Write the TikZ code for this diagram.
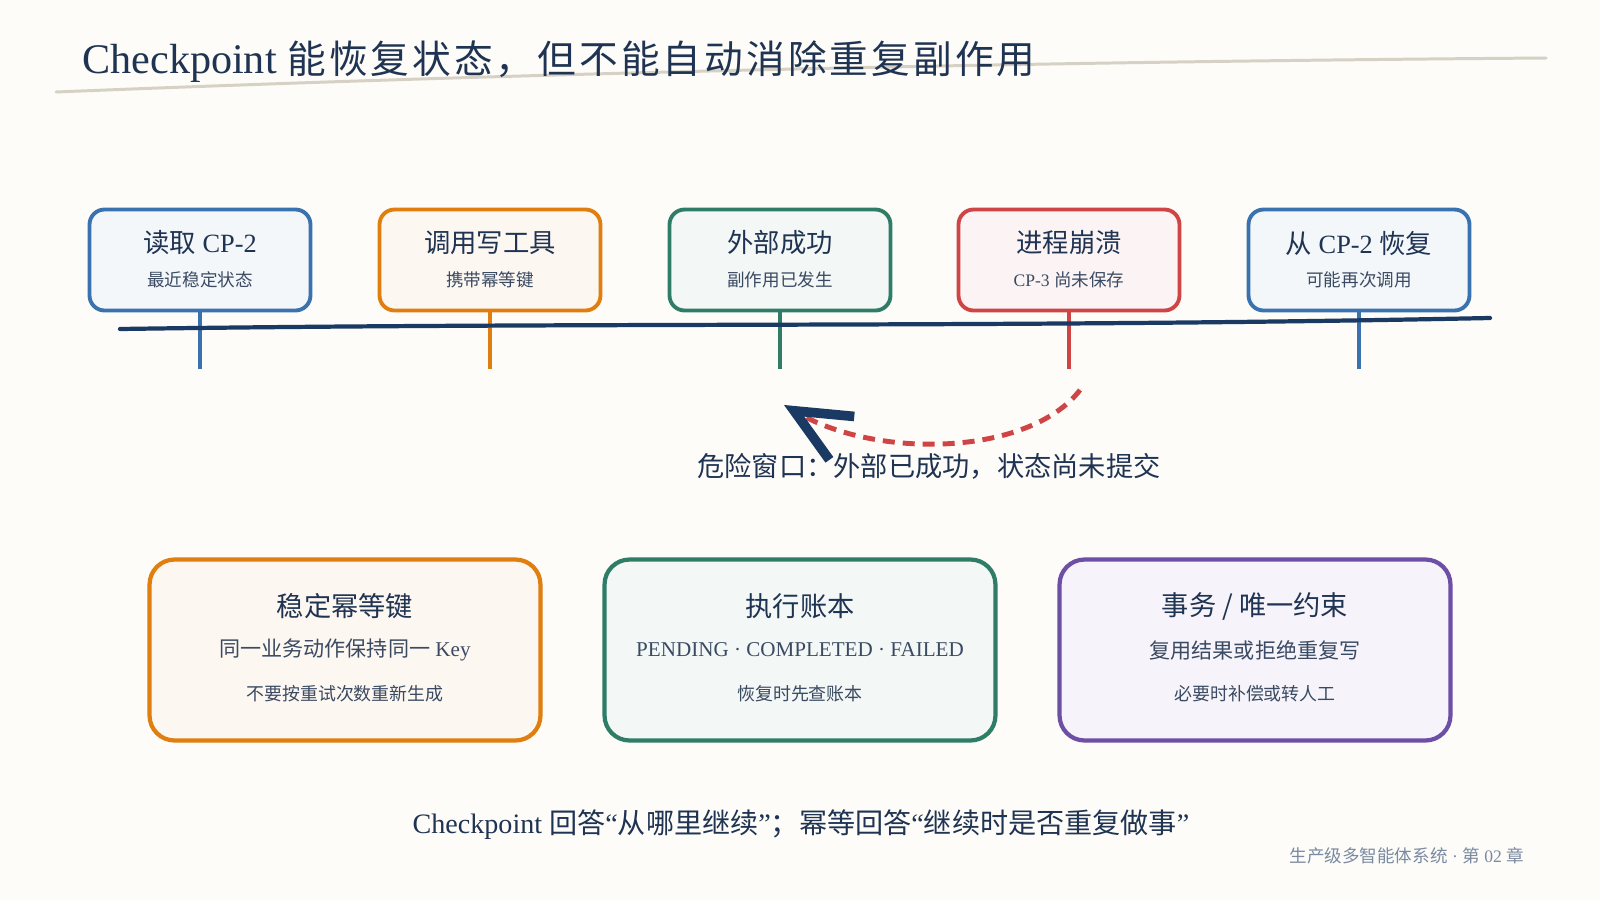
\documentclass[tikz,border=0pt]{standalone}
\usepackage{fontspec}
\setmainfont{Liberation Serif}
\newfontfamily\cjk{Noto Sans CJK SC}
\newfontfamily\cjkwide[LetterSpace=8]{Noto Sans CJK SC}
\usetikzlibrary{arrows.meta}
\definecolor{paperbg}{HTML}{FDFCF8}
\definecolor{inkcolor}{HTML}{1F3352}
\definecolor{softink}{HTML}{3A4A62}
\definecolor{footink}{HTML}{7A8AA2}
\definecolor{rulecolor}{HTML}{D6D1C4}
\definecolor{timecolor}{HTML}{1A3A63}
\definecolor{cpblue}{HTML}{3A72B0}
\definecolor{cporange}{HTML}{E07E10}
\definecolor{cpgreen}{HTML}{2F7D66}
\definecolor{cpred}{HTML}{CF4444}
\definecolor{cppurple}{HTML}{6E4FA6}
\tikzset{
  topcard/.style={draw=#1, fill=#1!6, line width=2.2pt, rounded corners=0.3cm,
    minimum width=4.42cm, minimum height=2.02cm},
  basecard/.style={draw=#1, fill=#1!6, line width=2.4pt, rounded corners=0.5cm,
    minimum width=7.82cm, minimum height=3.62cm},
  stem/.style={draw=#1, line width=2.1pt},
  toptitle/.style={text=inkcolor, inner sep=0pt, font=\fontsize{15}{18}\selectfont},
  topnote/.style={text=softink, inner sep=0pt, font=\fontsize{10}{12}\selectfont},
  basetitle/.style={text=inkcolor, inner sep=0pt, font=\fontsize{15.5}{18}\selectfont},
  basenote/.style={text=softink, inner sep=0pt, font=\fontsize{12}{14}\selectfont},
  basesmall/.style={text=softink, inner sep=0pt, font=\fontsize{10.2}{13}\selectfont}
}

\begin{document}
\begin{tikzpicture}[x=0.02cm, y=-0.02cm]
\useasboundingbox (0,0) rectangle (1600,900);
\fill[paperbg] (0,0) rectangle (1600,900);

% title
\draw[rulecolor, line width=1.7pt, line cap=round] (56,92) .. controls (500,74) and (1000,62) .. (1546,58);
\node[anchor=base west, inner sep=0pt, text=inkcolor] (title) at (82,73)
  {\fontsize{24}{26}\selectfont Checkpoint \cjkwide\fontsize{22}{26}\selectfont 能恢复状态，但不能自动消除重复副作用};

% timeline
\draw[stem=cpblue] (200,310) -- (200,369);
\draw[stem=cporange] (490,310) -- (490,369);
\draw[stem=cpgreen] (780,310) -- (780,369);
\draw[stem=cpred] (1069,310) -- (1069,369);
\draw[stem=cpblue] (1359,310) -- (1359,369);
\draw[timecolor, line width=2.4pt, line cap=round] (120,329) .. controls (600,322) and (1000,328) .. (1490,318);

\node[topcard=cpblue] (read) at (200,260) {};
\node[toptitle] (readT) at (200,243) {{\cjk 读取} CP-2};
\node[topnote] (readS) at (200,280) {\cjk 最近稳定状态};

\node[topcard=cporange] (call) at (490,260) {};
\node[toptitle] (callT) at (490,243) {\cjk 调用写工具};
\node[topnote] (callS) at (490,280) {\cjk 携带幂等键};

\node[topcard=cpgreen] (done) at (780,260) {};
\node[toptitle] (doneT) at (780,243) {\cjk 外部成功};
\node[topnote] (doneS) at (780,280) {\cjk 副作用已发生};

\node[topcard=cpred] (crash) at (1069,260) {};
\node[toptitle] (crashT) at (1069,243) {\cjk 进程崩溃};
\node[topnote] (crashS) at (1069,280) {CP-3 {\cjk 尚未保存}};

\node[topcard=cpblue] (resume) at (1359,260) {};
\node[toptitle] (resumeT) at (1359,243) {{\cjk 从} CP-2 {\cjk 恢复}};
\node[topnote] (resumeS) at (1359,280) {\cjk 可能再次调用};

% danger window
\coordinate (winFrom) at (1080,390);
\coordinate (winTo) at (784,405);
\draw[cpred, line width=2.8pt, dash pattern=on 0.24cm off 0.16cm,
  -{Straight Barb[length=1.1cm, width=1cm, line width=5.5pt, color=timecolor]}]
  (winFrom) .. controls (1030,455) and (880,460) .. (winTo);
\node[text=inkcolor, font=\fontsize{15.5}{18}\selectfont\cjk] (window) at (929,466) {危险窗口：外部已成功，状态尚未提交};

% remedies
\node[basecard=cporange] (key) at (345,650) {};
\node[basetitle] (keyT) at (345,606) {\cjk 稳定幂等键};
\node[basenote] (keyA) at (345,650) {{\cjk 同一业务动作保持同一} Key};
\node[basesmall] (keyB) at (345,694) {\cjk 不要按重试次数重新生成};

\node[basecard=cpgreen] (ledger) at (800,650) {};
\node[basetitle] (ledgerT) at (800,606) {\cjk 执行账本};
\node[basenote] (ledgerA) at (800,650) {PENDING · COMPLETED · FAILED};
\node[basesmall] (ledgerB) at (800,694) {\cjk 恢复时先查账本};

\node[basecard=cppurple] (txn) at (1255,650) {};
\node[basetitle] (txnT) at (1255,606) {\cjk 事务 / 唯一约束};
\node[basenote] (txnA) at (1255,650) {\cjk 复用结果或拒绝重复写};
\node[basesmall] (txnB) at (1255,694) {\cjk 必要时补偿或转人工};

% footer
\node[text=inkcolor, font=\fontsize{16}{19}\selectfont] (summary) at (801,825)
  {Checkpoint {\cjk 回答}“{\cjk 从哪里继续}”{\cjk ；幂等回答}“{\cjk 继续时是否重复做事}”};
\node[anchor=east, text=footink, font=\fontsize{10}{12}\selectfont] (chapter) at (1530,856)
  {{\cjk 生产级多智能体系统} · {\cjk 第} 02 {\cjk 章}};
\end{tikzpicture}
\end{document}
